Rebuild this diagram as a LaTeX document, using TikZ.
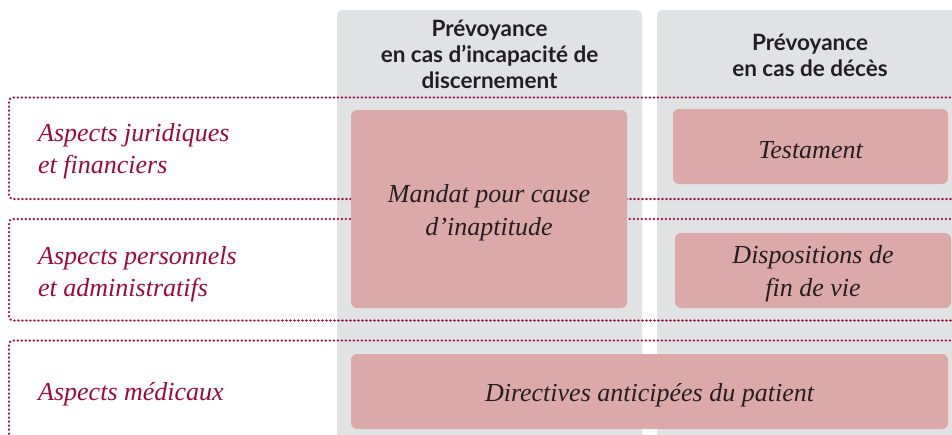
\documentclass[tikz,border=0pt]{standalone}
\usepackage{fontspec}
\setmainfont{Liberation Serif}
\newfontfamily\headfont{Lato}
\usetikzlibrary{positioning}
\usepackage{xcolor}
\definecolor{colgray}{RGB}{225,226,228}
\definecolor{boxpink}{RGB}{220,169,169}
\definecolor{aspectred}{RGB}{158,8,60}
\definecolor{textdark}{RGB}{35,31,32}
% extra room above the first line, pushes box texts a little down
\newcommand{\topgap}{\rule{0pt}{25pt}}

\tikzset{
  column/.style={fill=colgray, rounded corners=6pt},
  frame/.style={draw=aspectred, line width=2.2pt, line cap=round, dash pattern=on 0.4pt off 3.6pt, rounded corners=4pt},
  item/.style={fill=boxpink, rounded corners=6pt, text=textdark, align=center, inner sep=0pt,
    font=\fontsize{26}{33}\selectfont\itshape},
  aspect/.style={text=aspectred, align=left, anchor=west, inner sep=0pt,
    font=\fontsize{26}{32}\selectfont\itshape},
  header/.style={text=textdark, align=center, inner sep=0pt,
    font=\headfont\bfseries\fontsize{22.5}{26}\selectfont}
}

\begin{document}
\begin{tikzpicture}[x=1pt, y=-1pt]
    \useasboundingbox (0,0) rectangle (952,434);

    % Grey columns
    \fill[column] (337,10) rectangle (642,460);
    \fill[column] (657,10) rectangle (965,460);
    \node[header] (headleft) at (489.5,54) {Prévoyance\\en cas d’incapacité de\\discernement};
    \node[header] (headright) at (810,55) {Prévoyance\\en cas de décès};

    % Dotted rows
    \draw[frame] (970,97.5) -- (9,97.5) -- (9,199) -- (970,199);
    \draw[frame] (970,219) -- (9,219) -- (9,320.5) -- (970,320.5);
    \draw[frame] (970,340.5) -- (9,340.5) -- (9,470);

    % Row labels
    \node[aspect] (juridique) at (38,151) {Aspects juridiques\\et financiers};
    \node[aspect] (personnel) at (38,274) {Aspects personnels\\et administratifs};
    \node[aspect] (medical) at (38,394) {Aspects médicaux};

    % Documents
    \node[item, minimum width=276pt, minimum height=198pt] (mandat) at (489,209) {\topgap Mandat pour cause\\d’inaptitude};
    \node[item, minimum width=275pt, minimum height=75pt] (testament) at (810.5,146.5) {\topgap Testament};
    \node[item, minimum width=276pt, minimum height=75pt] (findevie) at (813,270.5) {\topgap Dispositions de\\fin de vie};
    \node[item, minimum width=597pt, minimum height=75pt] (directives) at (649.5,391.5) {\topgap Directives anticipées du patient};
\end{tikzpicture}
\end{document}
